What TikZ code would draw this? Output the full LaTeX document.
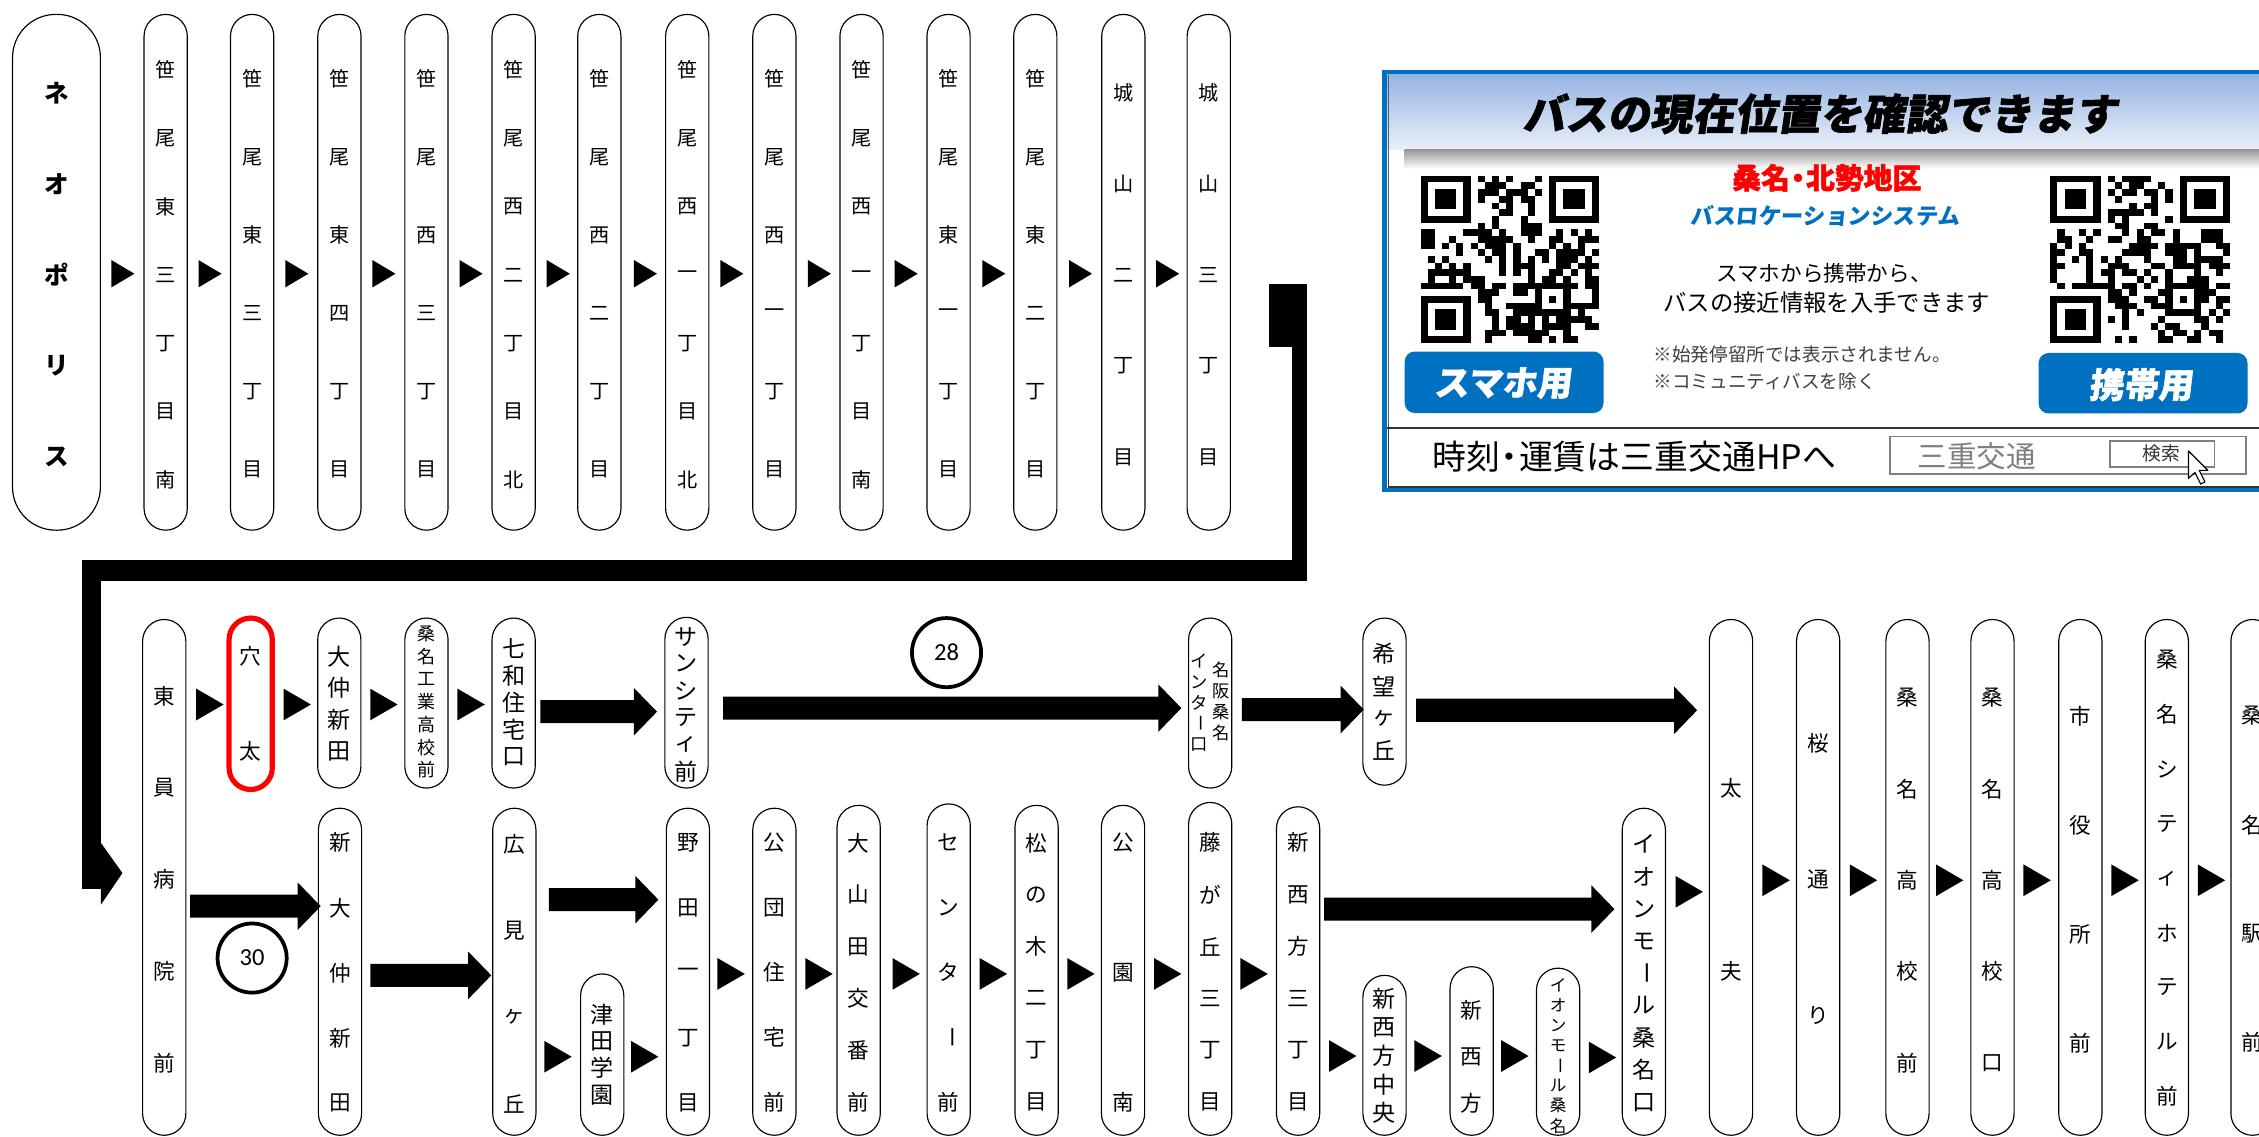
\documentclass[tikz,border=0pt]{standalone}
\usepackage{fontspec}
\setmainfont{Noto Sans CJK JP}
\newfontfamily\jp{Noto Sans CJK JP}
\newfontfamily\jpheavy{Noto Sans CJK JP}[FakeBold=1.5]
\newfontfamily\carl{Carlito}
\usetikzlibrary{calc}
\definecolor{panelblue}{RGB}{0,112,192}
\definecolor{hdrtop}{RGB}{150,180,226}
\definecolor{hdrbot}{RGB}{234,240,249}
\newcommand\fs[1]{\fontsize{#1}{#1}\selectfont}
\newcommand\vlong{\rotatebox[origin=c]{-90}{ー}}
\newcommand\ndot{\kern-0.22em・\kern-0.22em}
% stop: [style]{name}{cx}{top}{bot}{y1}{step}{chars}{font}
\newcommand\stp[9][]{%
  \node[stopbox,#1,minimum height={#5-#4}] (#2) at ({#3},{(#4+#5)/2}) {};
  \foreach \ch [count=\k from 0] in {#8} {%
    \node[stoptext,font=#9] (#2-\k) at ({#3},{#6+\k*#7}) {\ch};
  }%
}
\newcommand\tri[4]{\fill ({#1-#3/2},{#2-#4/2}) -- ({#1+#3/2},{#2}) -- ({#1-#3/2},{#2+#4/2}) -- cycle;}
\newcommand\barrow[3]{\fill (#1,{#3-8}) -- ({#2-16},{#3-8}) -- ({#2-16},{#3-16.5}) -- (#2,#3) -- ({#2-16},{#3+16.5}) -- ({#2-16},{#3+8}) -- (#1,{#3+8}) -- cycle;}
\newcommand\qrc[5]{%
  \begin{scope}[shift={(#1,#2)},x=#3pt,y=-#4pt]
  \pgfmathsetseed{#5}
  \foreach \i in {0,...,24}{\foreach \j in {0,...,24}{%
    \pgfmathtruncatemacro\qsk{((\i<8)&&(\j<8))||((\i>16)&&(\j<8))||((\i<8)&&(\j>16))}%
    \ifnum\qsk=0
      \pgfmathrandominteger{\qrr}{0}{99}%
      \ifnum\qrr<50 \fill (\i,\j) rectangle +(1,1);\fi
    \fi
  }}
  \foreach \a/\b in {0/0,18/0,0/18}{%
    \fill (\a,\b) rectangle +(7,7);
    \fill[white] (\a+1,\b+1) rectangle +(5,5);
    \fill (\a+2,\b+2) rectangle +(3,3);
  }
  \fill (16,16) rectangle +(5,5);
  \fill[white] (17,17) rectangle +(3,3);
  \fill (18,18) rectangle +(1,1);
  \end{scope}
}
\begin{document}
\begin{tikzpicture}[x=1pt,y=-1pt,
  stopbox/.style={draw,line width=0.8pt,rounded corners=15pt,minimum width=30pt,inner sep=0pt,fill=white},
  stoptext/.style={inner sep=0pt,text=black},
  numcircle/.style={circle,draw,line width=2.6pt,minimum size=48pt,inner sep=0pt,font=\carl\fs{17}},
]
\useasboundingbox (0,0) rectangle (1568,789);
\clip (0,0) rectangle (1568,789);

% ---------- top row ----------
\stp[minimum width=61pt,rounded corners=30pt]{neo}{39.2}{10}{368}{64.5}{63.2}{ネ,オ,ポ,リ,ス}{\fs{17}\bfseries}
\stp{t1}{115}{10}{368}{48.4}{47.5}{笹,尾,東,三,丁,目,南}{\fs{14}}
\stp{t2}{175}{10}{368}{54.6}{54.3}{笹,尾,東,三,丁,目}{\fs{14}}
\stp{t3}{235.6}{10}{368}{54.6}{54.3}{笹,尾,東,四,丁,目}{\fs{14}}
\stp{t4}{296}{10}{368}{54.6}{54.3}{笹,尾,西,三,丁,目}{\fs{14}}
\stp{t5}{356.5}{10}{368}{48.4}{47.5}{笹,尾,西,二,丁,目,北}{\fs{14}}
\stp{t6}{416}{10}{368}{54.6}{54.3}{笹,尾,西,二,丁,目}{\fs{14}}
\stp{t7}{477}{10}{368}{48.4}{47.5}{笹,尾,西,一,丁,目,北}{\fs{14}}
\stp{t8}{537.5}{10}{368}{54.6}{54.3}{笹,尾,西,一,丁,目}{\fs{14}}
\stp{t9}{598}{10}{368}{48.4}{47.5}{笹,尾,西,一,丁,目,南}{\fs{14}}
\stp{t10}{658.4}{10}{368}{54.6}{54.3}{笹,尾,東,一,丁,目}{\fs{14}}
\stp{t11}{718.6}{10}{368}{54.6}{54.3}{笹,尾,東,二,丁,目}{\fs{14}}
\stp{t12}{779.7}{10}{368}{64.5}{63.2}{城,山,二,丁,目}{\fs{14}}
\stp{t13}{839}{10}{368}{64.5}{63.2}{城,山,三,丁,目}{\fs{14}}
\foreach \x in {85.3,145.8,206,266.5,327,387.5,448,508,568.8,629,689.8,750,810.5}{\tri{\x}{190}{16}{19}}

% ---------- route connector ----------
\node[fill=black,minimum width=26pt,minimum height=44pt,inner sep=0pt] (sq) at (894,219) {};
\fill (897,241) rectangle (907,403);
\fill (57,389) rectangle (907,403);
\fill (57,389) rectangle (70,617);
\fill (70,585) -- (85,606) -- (70,628) -- cycle;

% ---------- bottom: upper branch ----------
\stp{toin}{114}{430}{788}{483}{63.7}{東,員,病,院,前}{\fs{15}}
\stp[draw=red,line width=3.6pt]{anou}{174}{429}{548}{455.5}{66}{穴,太}{\fs{15}}
\stp{onaka}{235.5}{429}{547}{455.5}{22}{大,仲,新,田}{\fs{16}}
\stp{kogyo}{296}{429}{547}{439.7}{15.8}{桑,名,工,業,高,校,前}{\fs{12.5}}
\stp{nanawa}{356.5}{429}{547}{450}{18.8}{七,和,住,宅,口}{\fs{16}}
\stp{suncity}{476.5}{428.5}{547}{442}{18.7}{サ,ン,シ,テ,ィ,前}{\fs{16}}
\node[stopbox,minimum height=118pt] (meihan) at (840,488) {};
\foreach \ch [count=\k from 0] in {名,阪,桑,名}{\node[stoptext,font=\fs{12}] (meihanR-\k) at (847.5,{465+\k*14.5}) {\ch};}
\foreach \ch [count=\k from 0] in {イ,ン,タ,\vlong,口}{\node[stoptext,font=\fs{12}] (meihanL-\k) at (832,{459+\k*14.4}) {\ch};}
\stp{kibo}{961}{429}{545}{454}{22.3}{希,望,ヶ,丘}{\fs{16}}
\foreach \x in {145.7,206.3,266.5,327}{\tri{\x}{489}{19}{22}}
\barrow{375}{456}{494}
\barrow{502}{820}{491.5}
\barrow{862}{946.6}{492.5}
\barrow{983}{1178}{493}
\node[numcircle] (c28) at (657,453) {28};

% ---------- bottom: lower branch ----------
\stp{shinonaka}{236}{561}{788}{585}{45.2}{新,大,仲,新,田}{\fs{15}}
\stp{hiromi}{357}{561}{788}{586}{60}{広,見,ヶ,丘}{\fs{15}}
\stp{tsuda}{418}{676}{788}{704}{18.7}{津,田,学,園}{\fs{16}}
\stp{noda}{477.5}{561}{788}{585}{45.2}{野,田,一,丁,目}{\fs{15}}
\stp{kodan}{537.5}{561}{788}{585}{45}{公,団,住,宅,前}{\fs{15}}
\stp{oyamada}{596}{559}{788}{585}{36}{大,山,田,交,番,前}{\fs{15}}
\stp{center}{658.5}{558}{788}{585}{45}{セ,ン,タ,\vlong,前}{\fs{15}}
\stp{matsu}{719.5}{559}{788}{585}{36}{松,の,木,二,丁,目}{\fs{15}}
\stp{koen}{779.5}{559}{788}{585}{90}{公,園,南}{\fs{15}}
\stp{fuji}{840}{557}{788}{585}{36}{藤,が,丘,三,丁,目}{\fs{15}}
\stp{shinsei3}{901}{560}{788}{585}{36}{新,西,方,三,丁,目}{\fs{15}}
\stp{shinseichuo}{961}{677}{788}{693.5}{19.7}{新,西,方,中,央}{\fs{16}}
\stp{shinsei}{1021.5}{671}{788}{701}{32.5}{新,西,方}{\fs{15}}
\stp{aeon}{1081.5}{672}{788}{683.6}{14}{イ,オ,ン,モ,\vlong,ル,桑,名}{\fs{11.5}}
\stp{aeonguchi}{1141}{561}{788}{586}{22.4}{イ,オ,ン,モ,\vlong,ル,桑,名,口}{\fs{16}}
\stp{tayu}{1201.5}{430}{788}{547}{127}{太,夫}{\fs{15}}
\stp{sakura}{1262}{430}{788}{516}{94.5}{桜,通,り}{\fs{15}}
\stp{kuwako}{1324}{430}{788}{484}{63.5}{桑,名,高,校,前}{\fs{15}}
\stp{kuwakoguchi}{1383}{430}{788}{484}{63.5}{桑,名,高,校,口}{\fs{15}}
\stp{shiyakusho}{1444}{430}{788}{497.4}{75.5}{市,役,所,前}{\fs{15}}
\stp{hotel}{1504}{430}{788}{458}{37.9}{桑,名,シ,テ,ィ,ホ,テ,ル,前}{\fs{15}}
\stp{eki}{1563.5}{430}{788}{497}{75.5}{桑,名,駅,前}{\fs{15}}
\foreach \x/\y in {387.3/733.5,447.5/733.5,507.5/676,568.5/676,629/676,689.5/676,750.3/676,810.5/676,870.5/676,932/733,991.3/733,1051.5/733,1112.3/734,1172.5/619,1232.8/611,1293.5/611,1353.3/611,1414/611,1475/611,1535/611}{\tri{\x}{\y}{19}{22}}
\barrow{132}{222.6}{629}
\barrow{257}{341}{677}
\barrow{381}{457}{624.5}
\barrow{919}{1120.6}{631}
\node[numcircle] (c30) at (175,665) {30};

% ---------- info panel ----------
\fill[white] (961,50) rectangle (1575,340);
\shade[top color=hdrtop,bottom color=hdrbot] (963,52) rectangle (1575,104);
\shade[top color=black!40,bottom color=white] (975,104) rectangle (1575,117);
\draw[gray!70!black,line width=0.8pt] (963.5,52) -- (963.5,338);
\draw[panelblue,line width=3pt] (961,50) rectangle (1580,340);
\node[font=\jpheavy\bfseries\fs{29.5},xslant=0.15,transform shape,inner sep=0pt] (hdr) at (1265,79) {バスの現在位置を確認できます};
\node[font=\jpheavy\bfseries\fs{20},text=red,inner sep=0pt] (area) at (1268,123.4) {桑名\ndot 北勢地区};
\node[font=\jp\bfseries\fs{15.6},text=panelblue,xslant=0.1,transform shape,inner sep=0pt] (sys) at (1267.5,150) {バスロケーションシステム};
\node[font=\jp\fs{15},inner sep=0pt] (msg1) at (1266,189.4) {スマホから携帯から、};
\node[font=\jp\fs{16.2},inner sep=0pt] (msg2) at (1268,210) {バスの接近情報を入手できます};
\node[font=\jp\fs{12.9},text=black!75,anchor=west,inner sep=0pt] (note1) at (1147.7,246) {※始発停留所では表示されません。};
\node[font=\jp\fs{12.9},text=black!75,anchor=west,inner sep=0pt] (note2) at (1147.7,264.7) {※コミュニティバスを除く};
\qrc{986}{122}{4.96}{4.64}{11}
\qrc{1423}{122}{5}{4.64}{27}
\fill[panelblue,rounded corners=7pt] (975,244) rectangle (1113,286.7);
\node[font=\jpheavy\bfseries\fs{24},text=white,xslant=0.12,transform shape,inner sep=0pt] (btn1) at (1044,266) {スマホ用};
\fill[panelblue,rounded corners=7pt] (1415,245) rectangle (1560,287);
\node[font=\jpheavy\bfseries\fs{24},text=white,xslant=0.12,transform shape,inner sep=0pt] (btn2) at (1487,267) {携帯用};
% bottom strip
\draw[black!80,line width=1.4pt] (963,297) -- (1575,297);
\draw[black!80,line width=0.8pt] (963.5,297) -- (963.5,338) -- (1575,338);
\node[font=\jp\fs{23.5},anchor=west,inner sep=0pt] (fare) at (994,317) {時刻\ndot 運賃は三重交通HPへ};
\draw[gray,line width=1.2pt] (1312,303) rectangle (1559,329);
\node[font=\jp\fs{20.5},text=gray,anchor=west,inner sep=0pt] (srch) at (1331,317) {三重交通};
\draw[gray,line width=1pt,fill=white] (1464.5,306) rectangle (1537,324);
\node[font=\jp\fs{13},text=black!80,inner sep=0pt] (kensaku) at (1500,315) {検索};
\draw[fill=white,line width=0.8pt,line join=round] (1519,313) -- ++(0,19) -- ++(4.5,-4) -- ++(4,8) -- ++(3,-1.5) -- ++(-4,-8) -- ++(6,0) -- cycle;
\end{tikzpicture}
\end{document}
